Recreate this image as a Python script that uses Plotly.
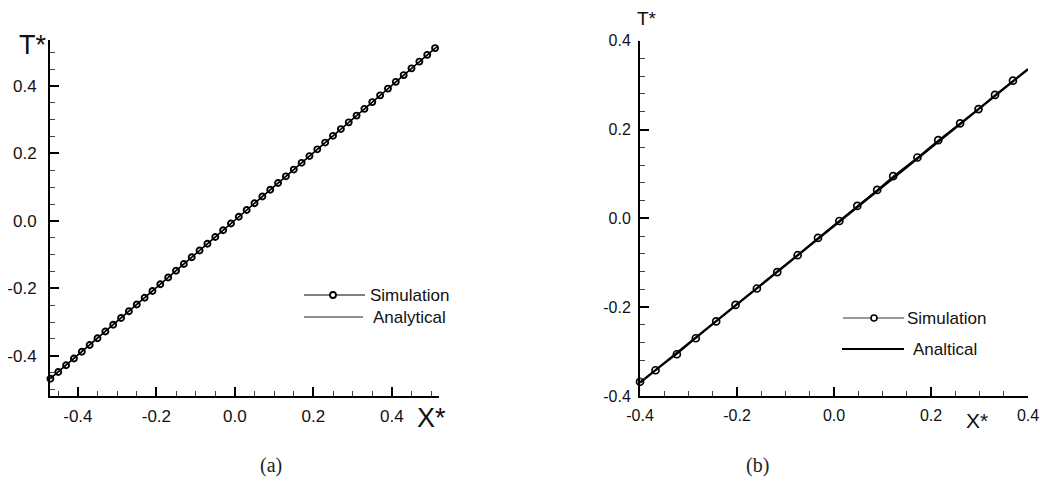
import plotly.graph_objects as go

W, H = 1040, 489

# ---------------- data ----------------
# panel (a)
sim_a_x = [-0.47, -0.45, -0.43, -0.41, -0.39, -0.37, -0.35, -0.33, -0.31, -0.29,
           -0.27, -0.25, -0.23, -0.21, -0.19, -0.17, -0.15, -0.13, -0.11, -0.09,
           -0.07, -0.05, -0.03, -0.01, 0.01, 0.03, 0.05, 0.07, 0.09, 0.11,
           0.13, 0.15, 0.17, 0.19, 0.21, 0.23, 0.25, 0.27, 0.29, 0.31,
           0.33, 0.35, 0.37, 0.39, 0.41, 0.43, 0.45, 0.47, 0.49, 0.51]
sim_a_t = [-0.468, -0.448, -0.428, -0.408, -0.388, -0.368, -0.348, -0.328, -0.308, -0.288,
           -0.268, -0.248, -0.228, -0.208, -0.188, -0.168, -0.148, -0.128, -0.108, -0.088,
           -0.068, -0.048, -0.028, -0.008, 0.012, 0.032, 0.052, 0.072, 0.092, 0.112,
           0.132, 0.152, 0.172, 0.192, 0.212, 0.232, 0.252, 0.272, 0.292, 0.312,
           0.332, 0.352, 0.372, 0.392, 0.412, 0.432, 0.452, 0.472, 0.492, 0.512]
ana_a_x = [-0.471, 0.517]
ana_a_t = [-0.468, 0.518]

# panel (b)
sim_b_x = [-0.400, -0.368, -0.324, -0.285, -0.243, -0.203, -0.159, -0.117, -0.075, -0.033,
           0.011, 0.048, 0.089, 0.122, 0.172, 0.215, 0.260, 0.298, 0.332, 0.369]
sim_b_t = [-0.368, -0.342, -0.306, -0.270, -0.232, -0.195, -0.158, -0.121, -0.083, -0.044,
           -0.006, 0.028, 0.064, 0.095, 0.137, 0.176, 0.214, 0.246, 0.278, 0.310]
ana_b_x = [-0.400, 0.400]
ana_b_t = [-0.370, 0.336]

tick_vals = [-0.4, -0.2, 0.0, 0.2, 0.4]
tick_text = ["-0.4", "-0.2", "0.0", "0.2", "0.4"]

FONT = "Liberation Sans, Arial, Helvetica, sans-serif"
SERIF = "Liberation Serif, DejaVu Serif, serif"


def px(x):
    return x / W


def py(y):
    return 1 - y / H


fig = go.Figure()

# panel (a) traces
fig.add_trace(go.Scatter(x=ana_a_x, y=ana_a_t, mode="lines",
                         line=dict(color="black", width=1.4),
                         xaxis="x", yaxis="y", showlegend=False, cliponaxis=False))
fig.add_trace(go.Scatter(x=sim_a_x, y=sim_a_t, mode="lines+markers",
                         line=dict(color="black", width=1.2),
                         marker=dict(symbol="circle-open", size=6, color="black",
                                     line=dict(width=1.9, color="black")),
                         xaxis="x", yaxis="y", showlegend=False, cliponaxis=False))

# panel (b) traces
fig.add_trace(go.Scatter(x=ana_b_x, y=ana_b_t, mode="lines",
                         line=dict(color="black", width=2.4),
                         xaxis="x2", yaxis="y2", showlegend=False, cliponaxis=False))
fig.add_trace(go.Scatter(x=sim_b_x, y=sim_b_t, mode="lines+markers",
                         line=dict(color="black", width=1.2),
                         marker=dict(symbol="circle-open", size=7, color="black",
                                     line=dict(width=1.7, color="black")),
                         xaxis="x2", yaxis="y2", showlegend=False, cliponaxis=False))


def axis(domain, rng, anchor, minor_dt, fsize, standoff):
    return dict(domain=domain, range=rng, anchor=anchor, automargin=False,
                showline=True, linecolor="black", linewidth=2,
                ticks="inside", ticklen=9, tickwidth=2, tickcolor="black",
                tickmode="array", tickvals=tick_vals, ticktext=tick_text,
                minor=dict(ticks="inside", dtick=minor_dt, tick0=0, ticklen=5,
                           tickwidth=1, tickcolor="#444"),
                showgrid=False, zeroline=False, mirror=False,
                tickfont=dict(family=FONT, size=fsize, color="#111"),
                ticklabelstandoff=standoff)


fig.update_layout(
    template="none",
    width=W, height=H,
    margin=dict(l=0, r=0, t=0, b=0, autoexpand=False),
    paper_bgcolor="white", plot_bgcolor="white",
    showlegend=False,
    xaxis=axis([px(50), px(439)], [-0.471, 0.52], "y", 0.05, 17, 4),
    yaxis=axis([py(396), py(40)], [-0.519, 0.536], "x", 0.05, 17, 8),
    xaxis2=axis([px(640), px(1028)], [-0.4, 0.4], "y2", 0.05, 16, 4),
    yaxis2=axis([py(396), py(40.7)], [-0.4, 0.4], "x2", 0.04, 16, 4),
)

shapes = []
annotations = []

# ---- legend (a) ----
shapes.append(dict(type="line", xref="paper", yref="paper",
                   x0=px(304), x1=px(365), y0=py(295), y1=py(295),
                   line=dict(color="#555", width=1.3)))
shapes.append(dict(type="circle", xref="paper", yref="paper",
                   x0=px(330), x1=px(336), y0=py(298), y1=py(292),
                   fillcolor="white", line=dict(color="black", width=1.8)))
shapes.append(dict(type="line", xref="paper", yref="paper",
                   x0=px(304), x1=px(363), y0=py(317), y1=py(317),
                   line=dict(color="#222", width=1.2)))
annotations.append(dict(text="Simulation", x=px(368), y=py(295), xref="paper", yref="paper",
                        xanchor="left", yanchor="middle", showarrow=False,
                        font=dict(family=FONT, size=17, color="#111")))
annotations.append(dict(text="Analytical", x=px(371), y=py(317), xref="paper", yref="paper",
                        xanchor="left", yanchor="middle", showarrow=False,
                        font=dict(family=FONT, size=17, color="#111")))

# ---- legend (b) ----
shapes.append(dict(type="line", xref="paper", yref="paper",
                   x0=px(843), x1=px(904), y0=py(318), y1=py(318),
                   line=dict(color="#333", width=1)))
shapes.append(dict(type="circle", xref="paper", yref="paper",
                   x0=px(871), x1=px(877), y0=py(321), y1=py(315),
                   fillcolor="white", line=dict(color="black", width=1.6)))
shapes.append(dict(type="line", xref="paper", yref="paper",
                   x0=px(842), x1=px(904), y0=py(349), y1=py(349),
                   line=dict(color="black", width=2.2)))
annotations.append(dict(text="Simulation", x=px(905), y=py(318), xref="paper", yref="paper",
                        xanchor="left", yanchor="middle", showarrow=False,
                        font=dict(family=FONT, size=17, color="#111")))
annotations.append(dict(text="Analtical", x=px(911), y=py(349), xref="paper", yref="paper",
                        xanchor="left", yanchor="middle", showarrow=False,
                        font=dict(family=FONT, size=17, color="#111")))

# ---- axis titles ----
annotations.append(dict(text="T*", x=px(32), y=py(45), xref="paper", yref="paper",
                        xanchor="center", yanchor="middle", showarrow=False,
                        font=dict(family=FONT, size=27, color="#111")))
annotations.append(dict(text="X*", x=px(431), y=py(418), xref="paper", yref="paper",
                        xanchor="center", yanchor="middle", showarrow=False,
                        font=dict(family=FONT, size=27, color="#111")))
annotations.append(dict(text="T*", x=px(647), y=py(19), xref="paper", yref="paper",
                        xanchor="center", yanchor="middle", showarrow=False,
                        font=dict(family=FONT, size=19, color="#111")))
annotations.append(dict(text="X*", x=px(977), y=py(420), xref="paper", yref="paper",
                        xanchor="center", yanchor="middle", showarrow=False,
                        font=dict(family=FONT, size=21, color="#111")))

# ---- captions ----
annotations.append(dict(text="(a)", x=px(271), y=py(465), xref="paper", yref="paper",
                        xanchor="center", yanchor="middle", showarrow=False,
                        font=dict(family=SERIF, size=20, color="#222")))
annotations.append(dict(text="(b)", x=px(757), y=py(465), xref="paper", yref="paper",
                        xanchor="center", yanchor="middle", showarrow=False,
                        font=dict(family=SERIF, size=20, color="#222")))

fig.update_layout(shapes=shapes, annotations=annotations)

fig.write_html("out.html", config={"displayModeBar": False},
               post_script="document.body.style.margin='0';document.body.style.overflow='hidden';")
